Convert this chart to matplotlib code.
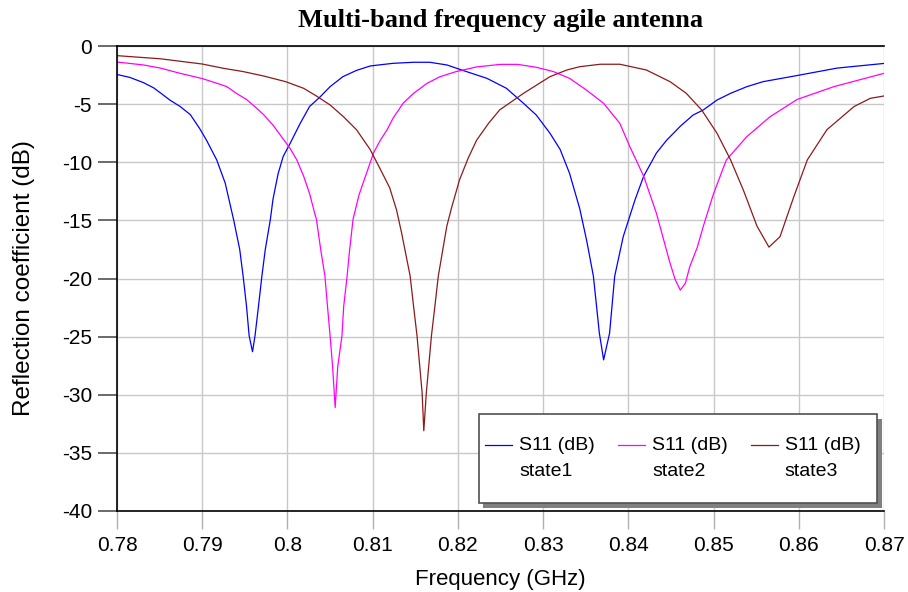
import numpy as np
import matplotlib.pyplot as plt
from matplotlib.lines import Line2D
from matplotlib.patches import Rectangle
from matplotlib.legend_handler import HandlerLine2D

# values (GHz, dB)
f1 = [0.7800, 0.7815, 0.7831, 0.7843, 0.7854, 0.7862, 0.7874, 0.7886, 0.7897,
      0.7905, 0.7917, 0.7927, 0.7937, 0.7944, 0.7948, 0.7952, 0.7955, 0.7959,
      0.7962, 0.7966, 0.7970, 0.7974, 0.7980, 0.7983, 0.7989, 0.7995, 0.8003,
      0.8015, 0.8026, 0.8038, 0.8050, 0.8065, 0.8081, 0.8097, 0.8105, 0.8124,
      0.8148, 0.8167, 0.8187, 0.8210, 0.8234, 0.8257, 0.8277, 0.8292, 0.8308,
      0.8320, 0.8331, 0.8343, 0.8351, 0.8359, 0.8366, 0.8371, 0.8378, 0.8384,
      0.8394, 0.8408, 0.8418, 0.8433, 0.8445, 0.8461, 0.8476, 0.8488, 0.8504,
      0.8520, 0.8539, 0.8558, 0.8601, 0.8645, 0.8700]
s1 = [-2.45, -2.7, -3.15, -3.6, -4.2, -4.65, -5.2, -5.9, -7.1,
      -8.1, -9.8, -11.8, -15.0, -17.5, -19.8, -22.4, -24.9, -26.3,
      -24.9, -22.4, -19.8, -17.5, -14.9, -13.2, -11.0, -9.5, -8.4,
      -6.65, -5.2, -4.4, -3.5, -2.64, -2.1, -1.72, -1.65, -1.49,
      -1.4, -1.4, -1.63, -2.2, -2.78, -3.64, -4.93, -5.94, -7.5,
      -8.9, -10.95, -14.0, -16.7, -19.8, -24.7, -27.0, -24.7, -19.8,
      -16.4, -13.2, -11.2, -9.2, -8.1, -6.9, -5.94, -5.5, -4.65,
      -4.07, -3.5, -3.07, -2.5, -1.9, -1.5]

f2 = [0.7800, 0.7831, 0.7851, 0.7874, 0.7900, 0.7917, 0.7929, 0.7940, 0.7952,
      0.7964, 0.7972, 0.7983, 0.7993, 0.8003, 0.8011, 0.8019, 0.8026, 0.8032,
      0.8034, 0.8039, 0.8044, 0.8047, 0.8050, 0.8053, 0.8056, 0.8059, 0.8064,
      0.8066, 0.8070, 0.8073, 0.8077, 0.8084, 0.8093, 0.8101, 0.8109, 0.8117,
      0.8124, 0.8136, 0.8148, 0.8164, 0.8179, 0.8198, 0.8222, 0.8250, 0.8270,
      0.8292, 0.8312, 0.8331, 0.8351, 0.8371, 0.8390, 0.8402, 0.8418, 0.8433,
      0.8449, 0.8455, 0.8461, 0.8467, 0.8472, 0.8481, 0.8488, 0.8500, 0.8515,
      0.8539, 0.8566, 0.8598, 0.8641, 0.8700]
s2 = [-1.38, -1.63, -1.9, -2.35, -2.8, -3.2, -3.5, -4.07, -4.6,
      -5.36, -5.9, -6.8, -7.8, -8.8, -9.8, -11.2, -12.7, -14.4,
      -14.9, -17.5, -19.8, -22.4, -24.9, -27.6, -31.1, -27.6, -24.9,
      -22.4, -19.8, -17.5, -14.9, -12.8, -10.9, -9.2, -8.1, -7.2,
      -6.2, -4.9, -4.07, -3.2, -2.64, -2.2, -1.8, -1.58, -1.58,
      -1.83, -2.2, -2.78, -3.8, -4.93, -6.65, -8.7, -11.2, -14.4,
      -18.7, -20.1, -21.0, -20.4, -19.0, -17.3, -15.5, -12.7, -9.8,
      -7.8, -6.1, -4.6, -3.5, -2.35]

f3 = [0.7800, 0.7851, 0.7900, 0.7925, 0.7948, 0.7972, 0.7998, 0.8019, 0.8034,
      0.8050, 0.8066, 0.8081, 0.8097, 0.8109, 0.8120, 0.8128, 0.8134, 0.8144,
      0.8148, 0.8152, 0.8158, 0.8160, 0.8163, 0.8169, 0.8173, 0.8177, 0.8187,
      0.8193, 0.8202, 0.8212, 0.8222, 0.8236, 0.8249, 0.8277, 0.8308, 0.8328,
      0.8343, 0.8367, 0.8390, 0.8421, 0.8449, 0.8468, 0.8486, 0.8504, 0.8520,
      0.8535, 0.8551, 0.8565, 0.8578, 0.8594, 0.8610, 0.8633, 0.8665, 0.8684,
      0.8700]
s3 = [-0.83, -1.1, -1.55, -1.92, -2.2, -2.58, -3.07, -3.64, -4.3,
      -5.07, -6.1, -7.2, -8.9, -10.6, -12.2, -14.1, -16.1, -19.8,
      -22.4, -24.9, -29.8, -33.1, -29.8, -24.9, -22.4, -19.8, -15.5,
      -13.8, -11.5, -9.66, -8.1, -6.65, -5.5, -4.07, -2.64, -2.06,
      -1.78, -1.57, -1.57, -2.06, -3.07, -4.07, -5.5, -7.5, -9.8,
      -12.4, -15.5, -17.3, -16.4, -13.0, -9.8, -7.2, -5.2, -4.5,
      -4.3]

labels = ['S11 (dB)\nstate1', 'S11 (dB)\nstate2', 'S11 (dB)\nstate3']
colors = ['#0000ff', '#ff00ff', '#8b1a1a']
xticks = np.arange(0.78, 0.8701, 0.01)
xticklabels = ['0.78', '0.79', '0.8', '0.81', '0.82', '0.83', '0.84', '0.85', '0.86', '0.87']
yticks = np.arange(-40, 1, 5)


class TopLineHandler(HandlerLine2D):
    # put the legend line next to the first text line
    def create_artists(self, legend, orig_handle, xdescent, ydescent,
                       width, height, fontsize, trans):
        arts = super().create_artists(legend, orig_handle, xdescent, ydescent,
                                      width, height, fontsize, trans)
        for a in arts:
            a.set_ydata(np.asarray(a.get_ydata()) + 0.68 * fontsize)
        return arts


plt.rcParams['font.family'] = ['Liberation Sans', 'DejaVu Sans']
plt.rcParams['axes.unicode_minus'] = False

fig = plt.figure(figsize=(9.08, 5.92), dpi=100)
ax = fig.add_axes([117/908, 1 - 511/592, 767/908, 465/592])

for f, s, c, lab in zip([f1, f2, f3], [s1, s2, s3], colors, labels):
    ax.plot(f, s, color=c, lw=0.9, label=lab)

ax.set_xlim(0.78, 0.87)
ax.set_ylim(-40, 0)
ax.set_xticks(xticks)
ax.set_xticklabels(xticklabels)
ax.set_yticks(yticks)
ax.grid(True, color='#c8c8c8', lw=1)
ax.set_axisbelow(True)
ax.tick_params(axis='both', labelsize=15, direction='out')
ax.tick_params(axis='x', length=13, color='#b0b0b0', width=1, pad=5)
ax.tick_params(axis='y', length=14, color='#505050', width=1.2, pad=4)
ax.spines['right'].set_visible(False)
for sp in ['left', 'top', 'bottom']:
    ax.spines[sp].set_linewidth(1.2)

ax.set_xlabel('Frequency (GHz)', fontsize=16, labelpad=10)
ax.set_ylabel('Reflection coefficient (dB)', fontsize=17.5, labelpad=19)
ax.set_title('Multi-band frequency agile antenna', fontsize=19, fontweight='bold',
             family='Liberation Serif', pad=14)

# legend box with its drop shadow (axes fraction)
bx0, by0, bw, bh = 0.472, 0.0172, 0.519, 0.1914
ax.add_patch(Rectangle((bx0 + 0.0058, by0 - 0.0097), bw, bh, transform=ax.transAxes,
                       facecolor='#808080', edgecolor='none', zorder=4))
ax.add_patch(Rectangle((bx0, by0), bw, bh, transform=ax.transAxes,
                       facecolor='white', edgecolor='#505050', lw=1.2, zorder=4.5))

leg = ax.legend(loc='upper left', bbox_to_anchor=(0.4798, 0.159), borderaxespad=0,
                ncol=3, fontsize=14, frameon=False,
                handlelength=1.39, handletextpad=0.36, borderpad=0,
                columnspacing=1.19, labelspacing=0.3,
                handler_map={Line2D: TopLineHandler()})
leg.set_zorder(6)
for t in leg.get_texts():
    t.set_linespacing(1.7)

fig.savefig('out.png', dpi=100)
